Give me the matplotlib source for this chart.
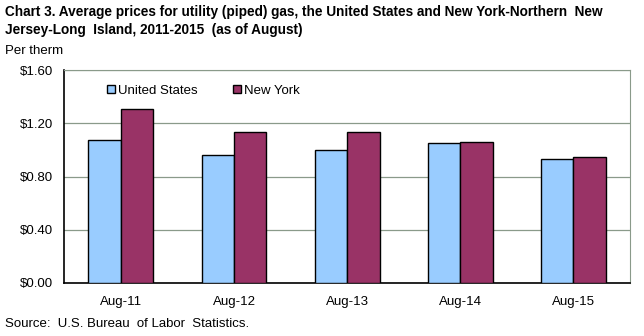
import matplotlib
matplotlib.use("Agg")
import matplotlib.pyplot as plt
import numpy as np
from matplotlib.ticker import FuncFormatter

categories = ["Aug-11", "Aug-12", "Aug-13", "Aug-14", "Aug-15"]
us_values = [1.074, 0.964, 1.002, 1.054, 0.933]
ny_values = [1.307, 1.136, 1.136, 1.062, 0.946]
series_names = ["United States", "New York"]
y_ticks = [0.0, 0.4, 0.8, 1.2, 1.6]

plt.rcParams['font.family'] = ['Liberation Sans', 'DejaVu Sans']

fig = plt.figure(figsize=(6.44, 3.36), dpi=100)
ax = fig.add_axes([64.3/644, 53/336, 565.7/644, 212.7/336])

x = np.arange(len(categories))
w = 0.287
ax.bar(x - w/2, us_values, w, color="#99CCFF", edgecolor="black", linewidth=1.0, label=series_names[0], zorder=3)
ax.bar(x + w/2, ny_values, w, color="#993366", edgecolor="black", linewidth=1.0, label=series_names[1], zorder=3)

ax.set_xlim(-0.5, len(categories) - 0.5)
ax.set_ylim(0, 1.6)
ax.set_yticks(y_ticks)
ax.yaxis.set_major_formatter(FuncFormatter(lambda v, p: f"${v:.2f}"))
ax.set_xticks(x)
ax.set_xticklabels(categories)
ax.tick_params(axis='both', labelsize=9.5, length=0)
ax.tick_params(axis='x', pad=9)
ax.tick_params(axis='y', pad=8)
ax.grid(axis='y', color="#8a9a8a", linewidth=0.9, zorder=0)
for s in ["top", "right"]:
    ax.spines[s].set_color("#8a9a8a")
for s in ["left", "bottom"]:
    ax.spines[s].set_color("black")
    ax.spines[s].set_linewidth(1.2)

leg = ax.legend(loc="center left", bbox_to_anchor=(0.075, 0.905), ncol=2, frameon=False,
                fontsize=9.5, handlelength=0.6, handleheight=0.6, handletextpad=0.25,
                columnspacing=2.7, borderaxespad=0, borderpad=0)

fig.text(5/644, 1 - 12/336, "Chart 3. Average prices for utility (piped) gas, the United States and New York-Northern  New",
         fontsize=9.8, fontweight="bold", va="center", ha="left")
fig.text(5/644, 1 - 30/336, "Jersey-Long  Island, 2011-2015  (as of August)",
         fontsize=9.8, fontweight="bold", va="center", ha="left")
fig.text(5/644, 1 - 51/336, "Per therm", fontsize=9.5, va="center", ha="left")
fig.text(5/644, 1 - 324/336, "Source:  U.S. Bureau  of Labor  Statistics.", fontsize=9.5, va="center", ha="left")

fig.savefig("out.png", dpi=100)
